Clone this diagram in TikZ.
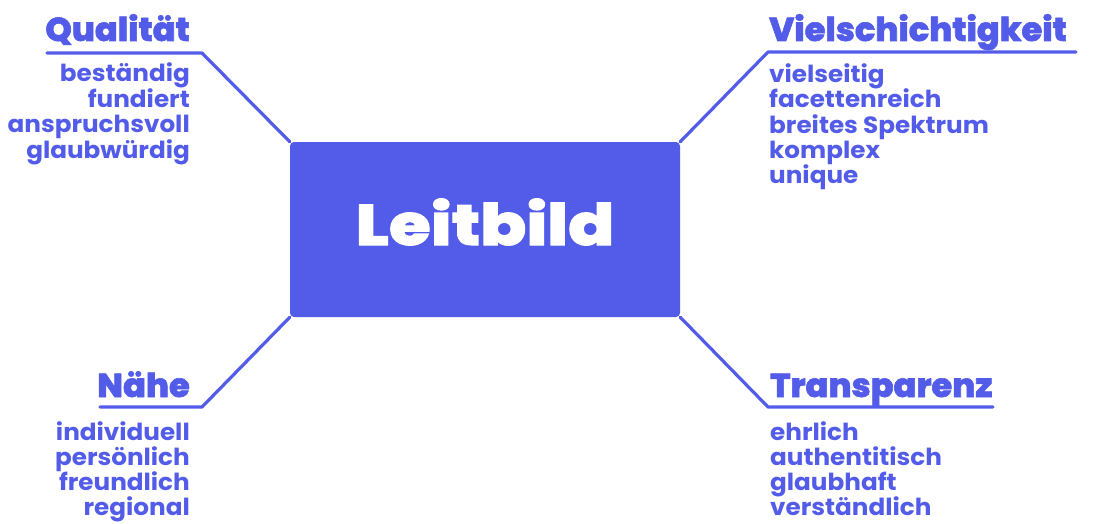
\documentclass[tikz,border=0pt]{standalone}
\usepackage{fontspec}
\setmainfont{Poppins}[BoldFont={Poppins Bold}]
\newfontfamily\headfont{Poppins ExtraBold}[FakeBold=1.8,FakeStretch=1.02]
\newfontfamily\leitfont{Poppins ExtraBold}[FakeBold=2,FakeStretch=1.19]
\newfontfamily\itemfont{Poppins Bold}[FakeStretch=1.05]
\definecolor{lb}{HTML}{535CE8}
\begin{document}
\begin{tikzpicture}[x=1pt,y=-1pt,
  itemL/.style={anchor=base west,inner sep=0pt,text=lb,font=\itemfont\fontsize{23.5}{23.5}\selectfont},
  itemR/.style={anchor=base east,inner sep=0pt,text=lb,font=\itemfont\fontsize{23.5}{23.5}\selectfont},
  headL/.style={anchor=base west,inner sep=0pt,text=lb,font=\headfont\fontsize{33}{33}\selectfont},
  headR/.style={anchor=base east,inner sep=0pt,text=lb,font=\headfont\fontsize{33}{33}\selectfont},
  link/.style={draw=lb,line width=3.2pt,line cap=round,line join=round}]
\useasboundingbox (0,0) rectangle (1110,524);
\clip (0,0) rectangle (1110,524);
\node[fill=lb,rounded corners=4pt,minimum width=390pt,minimum height=175pt,inner sep=0pt] (box) at (485,229.5) {};
\node[anchor=base,inner sep=0pt,text=white,font=\leitfont\fontsize{57}{57}\selectfont] (leit) at (485,245) {Leitbild};
% Qualitaet
\node[headR] (qh) at (190,41) {Qualität};
\coordinate (qa) at (47,53);
\coordinate (qb) at (202,53);
\draw[link] (qa) -- (qb) -- (box.north west);
\foreach \t/\y [count=\i] in {beständig/82,fundiert/107,anspruchsvoll/132,glaubwürdig/158}
  \node[itemR] (q\i) at (190,\y) {\t};
% Vielschichtigkeit
\node[headL] (vh) at (769,41) {Vielschichtigkeit};
\coordinate (va) at (768,52);
\coordinate (vb) at (1076,52);
\draw[link] (vb) -- (va) -- (box.north east);
\foreach \t/\y [count=\i] in {vielseitig/83,facettenreich/108,breites Spektrum/133,komplex/158,unique/183}
  \node[itemL] (v\i) at (769,\y) {\t};
% Naehe
\node[headR] (nh) at (190,397) {Nähe};
\coordinate (na) at (100,407);
\coordinate (nb) at (202,407);
\draw[link] (na) -- (nb) -- (box.south west);
\foreach \t/\y [count=\i] in {individuell/440,persönlich/465,freundlich/490,regional/515}
  \node[itemR] (n\i) at (190,\y) {\t};
% Transparenz
\node[headL] (th) at (770,397) {Transparenz};
\coordinate (ta) at (768,407);
\coordinate (tb) at (993,407);
\draw[link] (tb) -- (ta) -- (box.south east);
\foreach \t/\y [count=\i] in {ehrlich/440,authentitisch/465,glaubhaft/490,verständlich/515}
  \node[itemL] (t\i) at (770,\y) {\t};
\end{tikzpicture}
\end{document}
